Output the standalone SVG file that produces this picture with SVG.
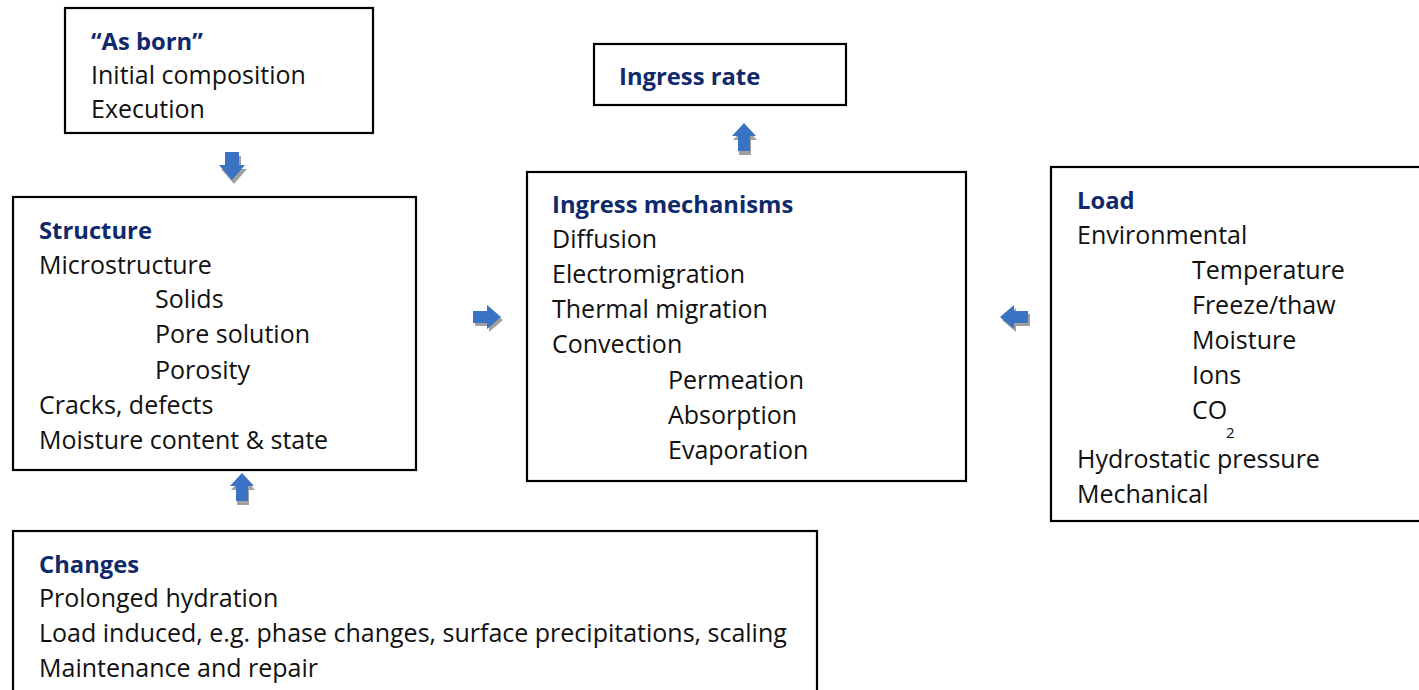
<svg xmlns="http://www.w3.org/2000/svg" width="1419" height="690" viewBox="0 0 1419 690">
  <style>
    .box { fill: #ffffff; stroke: #000000; stroke-width: 2.2; }
    text { font-family: "Open Sans", "Liberation Sans", sans-serif; font-size: 25px; fill: #111111; font-variant-ligatures: none; }
    .hd { font-weight: bold; font-size: 23.8px; fill: #10296b; }
    .sub { font-size: 15px; }
    .arrow { fill: #3a73c4; }
    .shadow { fill: #a0a0a0; }
  </style>
  <defs>
    <!-- block arrow pointing down -->
    <path id="arrowDown" d="M6,0 H20 V13 H26 L13,28 L0,13 H6 Z"/>
    <!-- block arrow pointing up -->
    <path id="arrowUp" d="M6,28 H18 V13 H24 L12,0 L0,13 H6 Z"/>
    <!-- block arrow pointing right -->
    <path id="arrowRight" d="M0,6 H14 V0 L28,12 L14,24 V18 H0 Z"/>
    <!-- block arrow pointing left -->
    <path id="arrowLeft" d="M28,6 H14 V0 L0,12 L14,24 V18 H28 Z"/>
  </defs>

  <rect width="1419" height="690" fill="#ffffff"/>

  <g id="connectors">
    <!-- As born -> Structure -->
    <use href="#arrowDown" class="shadow" x="221" y="156"/>
    <use href="#arrowDown" class="arrow" x="219" y="152"/>
    <!-- Changes -> Structure -->
    <use href="#arrowUp" class="shadow" x="231" y="477"/>
    <use href="#arrowUp" class="arrow" x="230" y="473"/>
    <!-- Ingress mechanisms -> Ingress rate -->
    <use href="#arrowUp" class="shadow" x="733" y="127"/>
    <use href="#arrowUp" class="arrow" x="732" y="123"/>
    <!-- Structure -> Ingress mechanisms -->
    <use href="#arrowRight" class="shadow" x="475" y="308"/>
    <use href="#arrowRight" class="arrow" x="473" y="305"/>
    <!-- Load -> Ingress mechanisms -->
    <use href="#arrowLeft" class="shadow" x="1002" y="308"/>
    <use href="#arrowLeft" class="arrow" x="1000" y="305"/>
  </g>

  <g id="as-born">
    <rect class="box" x="65" y="8" width="308" height="125"/>
    <text class="hd" x="91" y="50">“As born”</text>
    <text x="91" y="84">Initial composition</text>
    <text x="91" y="118">Execution</text>
  </g>

  <g id="ingress-rate">
    <rect class="box" x="594" y="44" width="252" height="61"/>
    <text class="hd" x="619" y="85">Ingress rate</text>
  </g>

  <g id="structure">
    <rect class="box" x="13" y="197" width="403" height="273"/>
    <text class="hd" x="39" y="239">Structure</text>
    <text x="39" y="274">Microstructure</text>
    <text x="155" y="308">Solids</text>
    <text x="155" y="343">Pore solution</text>
    <text x="155" y="379">Porosity</text>
    <text x="39" y="414">Cracks, defects</text>
    <text x="39" y="449">Moisture content &amp; state</text>
  </g>

  <g id="ingress-mechanisms">
    <rect class="box" x="527" y="172" width="439" height="309"/>
    <text class="hd" x="552" y="213">Ingress mechanisms</text>
    <text x="552" y="248">Diffusion</text>
    <text x="552" y="283">Electromigration</text>
    <text x="552" y="318">Thermal migration</text>
    <text x="552" y="353">Convection</text>
    <text x="668" y="389">Permeation</text>
    <text x="668" y="424">Absorption</text>
    <text x="668" y="459">Evaporation</text>
  </g>

  <g id="load">
    <rect class="box" x="1051" y="167" width="380" height="354"/>
    <text class="hd" x="1077" y="209">Load</text>
    <text x="1077" y="244">Environmental</text>
    <text x="1192" y="279">Temperature</text>
    <text x="1192" y="314">Freeze/thaw</text>
    <text x="1192" y="349">Moisture</text>
    <text x="1192" y="384">Ions</text>
    <text x="1192" y="419">CO</text>
    <text class="sub" x="1226" y="438">2</text>
    <text x="1077" y="468">Hydrostatic pressure</text>
    <text x="1077" y="503">Mechanical</text>
  </g>

  <g id="changes">
    <rect class="box" x="13" y="531" width="804" height="170"/>
    <text class="hd" x="39" y="573">Changes</text>
    <text x="39" y="607">Prolonged hydration</text>
    <text x="39" y="642">Load induced, e.g. phase changes, surface precipitations, scaling</text>
    <text x="39" y="677">Maintenance and repair</text>
  </g>
</svg>
